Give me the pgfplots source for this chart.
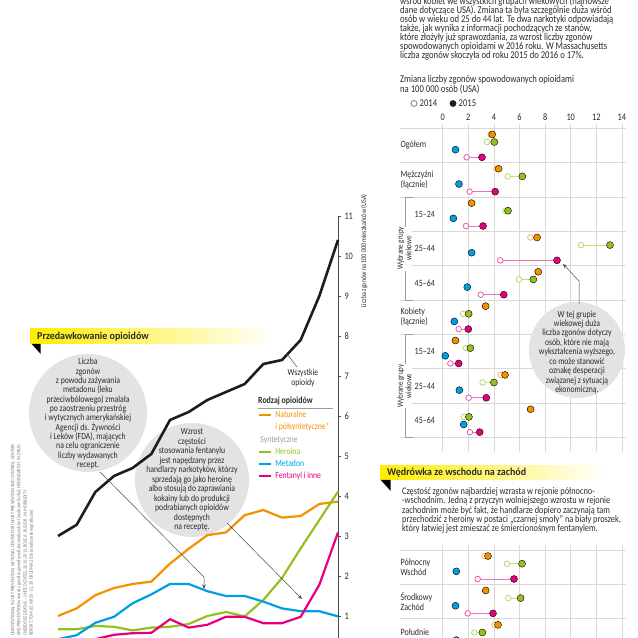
\documentclass[border=0pt]{standalone}
\usepackage{pgfplots}
\pgfplotsset{compat=1.18}
\usepackage{pgfplotstable}
\usepackage{fontspec}
\setmainfont{Carlito}[FakeStretch=0.83]
\newfontfamily\headfont{Carlito}[FakeStretch=0.95]
\usetikzlibrary{arrows.meta}

\definecolor{cOr}{HTML}{F39200}
\definecolor{cGr}{HTML}{95C11F}
\definecolor{cBl}{HTML}{009FE3}
\definecolor{cPk}{HTML}{E6007E}
\definecolor{cBk}{HTML}{1D1D1B}
\definecolor{cTx}{HTML}{2B2A29}
\definecolor{cCi}{HTML}{E3E3E3}
\definecolor{cGrid}{HTML}{D9D9D9}
\definecolor{cBr}{HTML}{9D9D9C}
\definecolor{cSyn}{HTML}{9D9D9C}
\definecolor{cYe}{HTML}{FFED00}
\definecolor{cArr}{HTML}{4A4A49}
\definecolor{cSrc}{HTML}{7A7A7A}

\newcommand{\fs}[2]{\fontsize{#1bp}{#2bp}\selectfont}
\newcommand{\ptext}[4]{\node[anchor=#1, inner sep=0pt] at (#2,#3) {#4};}

% deaths per 100 000 (USA), by opioid type
\pgfplotstableread{
year all  nat  her  met  fen
2000 3.00 1.00 0.67 0.42 0.30
2001 3.28 1.19 0.67 0.52 0.33
2002 4.10 1.52 0.75 0.83 0.42
2003 4.50 1.70 0.73 0.98 0.53
2004 4.70 1.80 0.64 1.32 0.57
2005 5.05 1.86 0.71 1.54 0.58
2006 5.90 2.31 0.73 1.80 0.92
2007 6.10 2.68 0.80 1.80 0.71
2008 6.40 3.02 1.00 1.62 0.78
2009 6.60 3.09 1.10 1.50 0.98
2010 6.80 3.52 0.99 1.50 0.98
2011 7.30 3.65 1.40 1.36 0.82
2012 7.40 3.46 1.95 1.19 0.82
2013 7.90 3.50 2.69 1.12 0.98
2014 9.00 3.80 3.40 1.12 1.78
2015 10.40 3.86 4.11 0.99 3.09
}\opioids

% change 2014 -> 2015, by sex and age
\pgfplotstableread{
g o14  o15  h14   h15   m14  m15  f14  f15
0 3.75 3.87 3.46  4.03  1.00 1.00 1.87 3.07
1 4.20 4.37 5.07  6.22  1.27 1.27 2.10 4.10
2 2.20 2.26 4.90  5.10  0.83 0.83 1.82 3.15
3 6.85 7.37 10.80 13.07 2.26 2.26 4.50 8.93
4 7.40 7.47 5.96  7.08  1.92 1.92 2.97 4.77
5 3.30 3.36 1.59  2.03  0.91 0.91 1.25 2.00
6 0.95 1.00 1.82  2.16  0.20 0.20 0.60 1.25
7 4.53 4.87 3.12  4.00  1.30 1.30 2.03 3.40
8 6.80 6.87 1.66  2.05  1.64 1.64 2.13 2.89
}\groups

% change 2014 -> 2015, by region
\pgfplotstableread{
g o14  o15  h14  h15  m14  m15  f14  f15
0 3.25 3.54 5.02 6.20 1.06 1.06 2.73 5.57
1 3.36 3.36 5.13 6.09 1.00 1.00 1.95 3.93
2 4.06 4.32 2.47 3.10 1.06 1.06 0    0
}\regions

% #1 table, #2 colour, #3 col 2014, #4 col 2015, #5 row offset, #6 extra options
\newcommand{\dumbbell}[6]{%
  \addplot[only marks, mark=none, forget plot, #6,
    error bars/.cd, x dir=plus, x explicit, error mark=none,
    error bar style={draw=#2!55, line width=0.9bp}]
    table[x=#3, y expr=-\thisrow{g}*4.5-#5, x error expr=\thisrow{#4}-\thisrow{#3}] {#1};
  \addplot[only marks, mark=*, mark size=2.8bp, forget plot, #6,
    mark options={fill=white, draw=#2!65, line width=0.8bp}]
    table[x=#3, y expr=-\thisrow{g}*4.5-#5] {#1};
  \addplot[only marks, mark=*, mark size=3.5bp, forget plot, #6,
    mark options={fill=#2, draw=none}]
    table[x=#4, y expr=-\thisrow{g}*4.5-#5] {#1};
}

\pgfplotsset{
  dotaxis/.style={
    anchor=south west, scale only axis, width=226bp,
    xmin=-3.336, xmax=14.32,
    xtick={0,2,...,14}, yticklabels={},
    /pgf/number format/assume math mode=true,
    grid=major, major grid style={draw=cGrid, line width=0.6bp},
    axis line style={draw=none}, major tick length=0pt, clip=false,
  },
}
\tikzset{catlab/.style={anchor=west, inner sep=0pt, align=left, font=\fs{9.6}{9.6}, text=cTx}}

\begin{document}
\begin{tikzpicture}
\useasboundingbox (0,0) rectangle (638bp,638bp);
\clip (0,0) rectangle (638bp,638bp);

% ---------- left part: background pieces
\begin{scope}[x=1bp, y=-1bp, shift={(0bp,638bp)}]
  \fill[cCi] (88,413) circle [radius=59];
  \fill[cCi] (192,480) circle [radius=57];
  \shade[left color=cYe, middle color=cYe!80, right color=white] (30,329) rectangle (275,344);
  \fill[black] (31.7,344) -- (40.7,344) -- (40.7,354) -- cycle;
  \node[anchor=west, inner sep=0pt, text=cTx, font=\headfont\bfseries\fs{10.5}{11}] at (37,336.5) {Przedawkowanie opioidów};
\end{scope}

% ---------- line chart
\begin{axis}[at={(58bp,0bp)}, anchor=south west, scale only axis,
  width=280bp, height=422bp,
  xmin=2000, xmax=2015, ymin=0.45, ymax=11,
  axis x line=none, axis y line*=right,
  ytick={1,...,11}, tick align=outside, major tick length=3bp,
  ytick style={draw=cArr, line width=0.5bp},
  axis line style={draw=cArr, line width=0.6bp},
  y tick label style={font=\fs{10}{10}, text=cTx},
  /pgf/number format/assume math mode=true,
  clip=false,
  legend style={at={(axis cs:2010.714,6.15)}, anchor=north west,
    draw=none, fill=none, inner sep=0pt, row sep=0pt, column sep=3bp,
    font=\fs{9.3}{10},
    nodes={inner sep=0pt, text height=7.6bp, text depth=4.6bp, anchor=base west}},
  legend cell align=left,
  legend image code/.code={\draw[#1, line width=2.2bp] (0bp,2.6bp) -- (12bp,2.6bp);},
]
  \addplot[cBk, line width=2.6bp, forget plot] table[x=year, y=all] {\opioids};
  \addplot[cOr, line width=2.2bp] table[x=year, y=nat] {\opioids};
  \addlegendentry{\textcolor{cOr}{Naturalne}}
  \addlegendimage{empty legend}
  \addlegendentry{\textcolor{cOr}{i półsyntetyczne*}}
  \addlegendimage{empty legend}
  \addlegendentry{\hspace*{-15bp}\textcolor{cSyn}{Syntetyczne}}
  \addplot[cGr, line width=2.2bp] table[x=year, y=her] {\opioids};
  \addlegendentry{\textcolor{cGr}{Heroina}}
  \addplot[cBl, line width=2.2bp] table[x=year, y=met] {\opioids};
  \addlegendentry{\textcolor{cBl}{Metadon}}
  \addplot[cPk, line width=2.2bp] table[x=year, y=fen] {\opioids};
  \addlegendentry{\textcolor{cPk}{Fentanyl i inne}}
\end{axis}

% ---------- left part: texts and arrows
\begin{scope}[x=1bp, y=-1bp, shift={(0bp,638bp)}, text=cTx]
  \begin{scope}[font=\fs{9.3}{9.4}]
    \ptext{base}{88}{364.8}{Liczba}
    \ptext{base}{88}{374.2}{zgonów}
    \ptext{base}{88}{383.5}{z powodu zażywania}
    \ptext{base}{88}{392.9}{metadonu (leku}
    \ptext{base}{88}{402.2}{przeciwbólowego) zmalała}
    \ptext{base}{88}{411.6}{po zaostrzeniu przestróg}
    \ptext{base}{88}{421.0}{i wytycznych amerykańskiej}
    \ptext{base}{88}{430.3}{Agencji ds. Żywności}
    \ptext{base}{88}{439.7}{i Leków (FDA), mających}
    \ptext{base}{88}{449.0}{na celu ograniczenie}
    \ptext{base}{88}{458.4}{liczby wydawanych}
    \ptext{base}{88}{467.8}{recept.}
    \ptext{base}{192}{434.8}{Wzrost}
    \ptext{base}{192}{444.3}{częstości}
    \ptext{base}{192}{453.8}{stosowania fentanylu}
    \ptext{base}{192}{463.3}{jest napędzany przez}
    \ptext{base}{192}{472.8}{handlarzy narkotyków, którzy}
    \ptext{base}{192}{482.3}{sprzedają go jako heroinę}
    \ptext{base}{192}{491.8}{albo stosują do zaprawiania}
    \ptext{base}{192}{501.3}{kokainy lub do produkcji}
    \ptext{base}{192}{510.8}{podrabianych opioidów}
    \ptext{base}{192}{520.3}{dostępnych}
    \ptext{base}{192}{529.8}{na receptę.}
    \ptext{base}{303}{375.8}{Wszystkie}
    \ptext{base}{303}{385.8}{opioidy}
  \end{scope}
  \node[anchor=base west, inner sep=0pt, font=\bfseries\fs{9.5}{10}] at (258,403.8) {Rodzaj opioidów};
  \draw[cBr, line width=0.5bp] (258,408) -- (333,408);
  \draw[cArr, line width=0.5bp] (297,367) -- (287,354);
  \draw[cArr, line width=0.5bp, -{Stealth[length=4.5bp, width=3.5bp]}] (100,472) -- (204,577) -- (204,589);
  \draw[cArr, line width=0.5bp, -{Stealth[length=4.5bp, width=3.5bp]}] (227,523) -- (302,599);
  \node[rotate=90, inner sep=0pt, font=\fs{7.3}{8}] at (364,251) {Liczba zgonów na 100 000 mieszkańców (USA)};
  \begin{scope}[font=\fs{5.2}{6}, text=cSrc]
    \node[rotate=90, anchor=west, inner sep=0pt] at (13,636) {UNINTENTIONAL INJURY PREVENTION, NATIONAL CENTER FOR INJURY PREVENTION AND CONTROL, CENTERS};
    \node[rotate=90, anchor=west, inner sep=0pt] at (19,636) {AND PREVENTION www.cdc.gov/drugoverdose/data/analysis.html (wybrane liczby); HEDEGAARD H. IN DRUG};
    \node[rotate=90, anchor=west, inner sep=0pt] at (25.5,636) {OVERDOSE DEATHS – UNITED STATES, 2010–2015; ROSE A. RUDD R. M. MORBIDITY};
    \node[rotate=90, anchor=west, inner sep=0pt] at (31.5,636) {REPORT, TOM 65, NR 50–51, 30 GRUDNIA 2016 (analizy ekonograficzne)};
  \end{scope}
\end{scope}

% ---------- top right texts
\begin{scope}[x=1bp, y=-1bp, shift={(0bp,638bp)}, text=cTx, font=\fs{10.4}{9}]
  \ptext{base west}{400}{4.5}{wśród kobiet we wszystkich grupach wiekowych (najnowsze}
  \ptext{base west}{400}{13.6}{dane dotyczące USA). Zmiana ta była szczególnie duża wśród}
  \ptext{base west}{400}{22.6}{osób w wieku od 25 do 44 lat. Te dwa narkotyki odpowiadają}
  \ptext{base west}{400}{31.7}{także, jak wynika z informacji pochodzących ze stanów,}
  \ptext{base west}{400}{40.7}{które złożyły już sprawozdania, za wzrost liczby zgonów}
  \ptext{base west}{400}{49.8}{spowodowanych opioidami w 2016 roku. W Massachusetts}
  \ptext{base west}{400}{58.8}{liczba zgonów skoczyła od roku 2015 do 2016 o 17\%.}
  \ptext{base west}{400}{83.0}{Zmiana liczby zgonów spowodowanych opioidami}
  \ptext{base west}{400}{92.5}{na 100 000 osób (USA)}
  \draw[cTx!60, line width=0.8bp, fill=white] (414,103.5) circle [radius=3];
  \ptext{base west}{419.5}{106.8}{2014}
  \fill[cBk] (453,103.5) circle [radius=3.4];
  \ptext{base west}{458.5}{106.8}{2015}
\end{scope}

% ---------- dot plot: sex and age groups
\begin{axis}[dotaxis, at={(400bp,186bp)}, height=328bp,
  ymin=-42.4, ymax=0.56, ytick={-40.5,-36,...,0},
  xticklabel pos=upper, x tick label style={font=\fs{10}{10}, text=cTx}]
  \dumbbell{\groups}{cOr}{o14}{o15}{0.8}{}
  \dumbbell{\groups}{cGr}{h14}{h15}{1.8}{}
  \dumbbell{\groups}{cBl}{m14}{m15}{2.8}{}
  \dumbbell{\groups}{cPk}{f14}{f15}{3.8}{}
  \node[catlab] at (axis cs:-3.3,-2.25) {Ogółem};
  \node[catlab] at (axis cs:-3.3,-6.75) {Mężczyźni\\(łącznie)};
  \node[catlab] at (axis cs:-2.2,-11.25) {15–24};
  \node[catlab] at (axis cs:-2.2,-15.75) {25–44};
  \node[catlab] at (axis cs:-2.2,-20.25) {45–64};
  \node[catlab] at (axis cs:-3.3,-24.75) {Kobiety\\(łącznie)};
  \node[catlab] at (axis cs:-2.2,-29.25) {15–24};
  \node[catlab] at (axis cs:-2.2,-33.75) {25–44};
  \node[catlab] at (axis cs:-2.2,-38.25) {45–64};
  \draw[cBr, line width=0.6bp] (axis cs:-2.32,-9) -| (axis cs:-2.95,-22.5) -- (axis cs:-2.32,-22.5);
  \draw[cBr, line width=0.6bp] (axis cs:-2.32,-27) -| (axis cs:-2.95,-40.5) -- (axis cs:-2.32,-40.5);
  \node[rotate=90, fill=white, inner sep=0.6bp, align=center, font=\fs{8.3}{8.4}, text=cTx] at (axis cs:-3.0,-15.75) {Wybrane grupy\\wiekowe};
  \node[rotate=90, fill=white, inner sep=0.6bp, align=center, font=\fs{8.3}{8.4}, text=cTx] at (axis cs:-3.0,-33.75) {Wybrane grupy\\wiekowe};
\end{axis}

% ---------- dot plot: regions
\begin{axis}[dotaxis, at={(400bp,0bp)}, height=93bp,
  ymin=-11.52, ymax=0.65, ytick={-9,-4.5,0}, xticklabels={}]
  \dumbbell{\regions}{cOr}{o14}{o15}{0.8}{}
  \dumbbell{\regions}{cGr}{h14}{h15}{1.8}{}
  \dumbbell{\regions}{cBl}{m14}{m15}{2.8}{}
  \dumbbell{\regions}{cPk}{f14}{f15}{3.8}{skip coords between index={2}{3}}
  \node[catlab] at (axis cs:-3.3,-2.25) {Północny\\Wschód};
  \node[catlab] at (axis cs:-3.3,-6.75) {Środkowy\\Zachód};
  \node[catlab] at (axis cs:-3.3,-10.7) {Południe};
\end{axis}

% ---------- right part: note, banner, paragraph
\begin{scope}[x=1bp, y=-1bp, shift={(0bp,638bp)}, text=cTx]
  \fill[cCi] (577,350) circle [radius=48];
  \draw[cArr, line width=0.5bp, -{Stealth[length=4.5bp, width=3.5bp]}] (579,304) -- (579,281) -- (563,264);
  \begin{scope}[font=\fs{9.3}{9.4}]
    \ptext{base}{577}{317.1}{W tej grupie}
    \ptext{base}{577}{326.6}{wiekowej duża}
    \ptext{base}{577}{336.0}{liczba zgonów dotyczy}
    \ptext{base}{577}{345.5}{osób, które nie mają}
    \ptext{base}{577}{354.9}{wykształcenia wyższego,}
    \ptext{base}{577}{364.4}{co może stanowić}
    \ptext{base}{577}{373.9}{oznakę desperacji}
    \ptext{base}{577}{383.3}{związanej z sytuacją}
    \ptext{base}{577}{392.8}{ekonomiczną.}
  \end{scope}
  \shade[left color=cYe, middle color=cYe!80, right color=white] (380,466) rectangle (605,480);
  \fill[black] (380.7,480) -- (390.7,480) -- (390.7,491) -- cycle;
  \node[anchor=west, inner sep=0pt, font=\headfont\bfseries\fs{10.5}{11}] at (387,473) {Wędrówka ze wschodu na zachód};
  \begin{scope}[font=\fs{10}{9}]
    \ptext{base west}{402}{494.5}{Częstość zgonów najbardziej wzrasta w rejonie północno-}
    \ptext{base west}{402}{503.8}{-wschodnim. Jedną z przyczyn wolniejszego wzrostu w rejonie}
    \ptext{base west}{402}{513.2}{zachodnim może być fakt, że handlarze dopiero zaczynają tam}
    \ptext{base west}{402}{522.5}{przechodzić z heroiny w postaci „czarnej smoły” na biały proszek,}
    \ptext{base west}{402}{531.8}{który łatwiej jest zmieszać ze śmiercionośnym fentanylem.}
  \end{scope}
\end{scope}
\end{tikzpicture}
\end{document}
